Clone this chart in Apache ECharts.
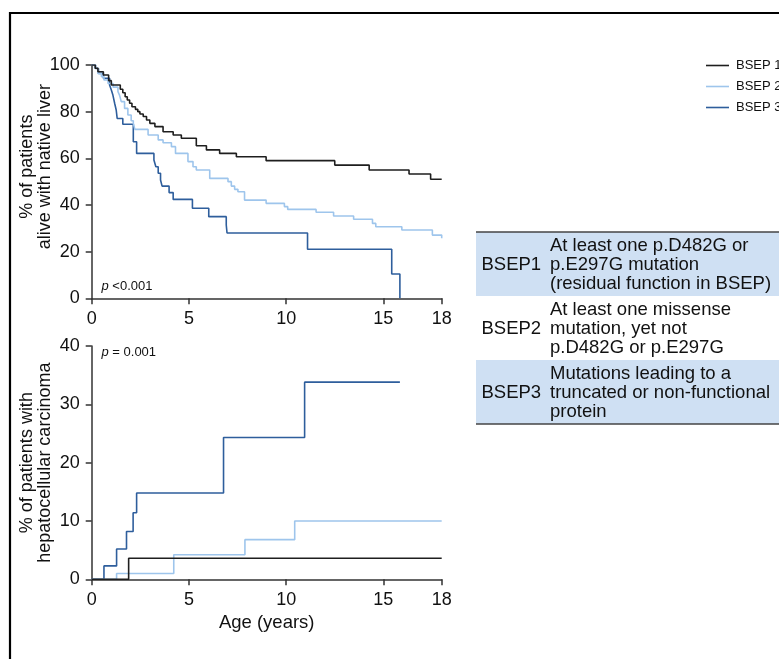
<!DOCTYPE html>
<html>
<head>
<meta charset="utf-8">
<script src="https://cdn.jsdelivr.net/npm/echarts@6/dist/echarts.min.js"></script>
<style>
html,body{margin:0;padding:0;background:#fff;}
#c{width:779px;height:659px;}
</style>
</head>
<body>
<div id="c"></div>
<script>
// ---- data ----
var seriesNames = ['BSEP 1', 'BSEP 2', 'BSEP 3'];
var seriesColors = ['#1e1e1e', '#9ec5ec', '#2e5e9c'];

// Survival with native liver (%), [age, value] step points
var survBSEP1 = [[0,100],[0.18,98.6],[0.32,97.1],[0.6,95.7],[0.87,93.3],[1.01,91.4],[1.47,89.6],[1.6,88.1],[1.72,86.4],[1.83,85],[1.95,83.6],[2.07,82.1],[2.25,81],[2.37,80],[2.48,79],[2.65,77.9],[2.82,76.4],[2.99,75],[3.25,73.6],[3.67,71.4],[4.19,70],[4.61,68.6],[5.38,65.4],[5.9,63.6],[6.58,62.1],[7.44,60.7],[8.97,59],[12.5,57.1],[14.27,55],[16.32,53.3],[17.43,51],[18,51]];
var survBSEP2 = [[0,100],[0.15,98.6],[0.32,96.4],[0.5,95],[0.63,93.6],[0.84,92.1],[1.1,90.5],[1.35,88.6],[1.43,87.1],[1.52,84.3],[1.69,81.4],[1.86,78.6],[2.03,76.1],[2.14,75],[2.22,72.4],[2.9,70],[3.42,67.9],[3.67,66.7],[4.1,65],[4.31,62.1],[4.95,58.6],[5.21,56.4],[5.38,55],[6.07,51.4],[7.01,50],[7.18,48.1],[7.35,46.7],[7.52,45.7],[7.86,42.1],[8.97,40.7],[9.91,39.3],[10.08,38.1],[11.54,36.9],[12.44,35.3],[13.47,33.9],[14.44,32.1],[14.61,30.7],[15.95,29.3],[17.52,27.1],[18,25.7]];
var survBSEP3 = [[0,100],[0.2,98.5],[0.35,96.4],[0.6,94.3],[0.92,91.4],[1.01,89.3],[1.09,87.1],[1.18,83.6],[1.26,80.7],[1.31,77.1],[1.6,74.6],[2.14,67.1],[2.31,62.1],[3.2,59.3],[3.3,56.4],[3.42,53.6],[3.54,50.7],[3.62,48.1],[3.98,45.3],[4.19,42.4],[5.18,38.6],[6.02,35],[6.92,31.4],[6.96,28],[11.1,21],[15.43,10.4],[15.85,0]];

// Cumulative HCC (%)
var hccBSEP1 = [[0,0],[1.9,3.6],[18,3.6]];
var hccBSEP2 = [[0,0],[1.28,1],[4.22,4.2],[7.88,6.8],[10.44,10],[18,10]];
var hccBSEP3 = [[0,0],[0.63,2.3],[1.28,5.2],[1.79,8.2],[2.13,11.4],[2.31,14.8],[6.78,24.3],[10.95,33.8],[15.85,33.8]];

var xTicks = [0, 5, 10, 15, 18];

var pTop = '<0.001';
var pBottom = '= 0.001';

var tableLabels = ['BSEP1', 'BSEP2', 'BSEP3'];
var tableDescriptions = [
  ['At least one p.D482G or', 'p.E297G mutation', '(residual function in BSEP)'],
  ['At least one missense', 'mutation, yet not', 'p.D482G or p.E297G'],
  ['Mutations leading to a', 'truncated or non-functional', 'protein']
];
var tableShaded = [true, false, true];

// ---- chart ----
var FONT = 'Liberation Sans, Arial, sans-serif';
var chart = echarts.init(document.getElementById('c'), null, {renderer: 'canvas'});

function xAxisCfg(gi) {
  return {
    type: 'value', gridIndex: gi, min: 0, max: 18,
    axisLine: {show: true, onZero: false, lineStyle: {color: '#333', width: 1.5}},
    axisTick: {show: true, length: 6, customValues: xTicks, lineStyle: {color: '#333', width: 1.5}},
    axisLabel: {customValues: xTicks, color: '#111', fontSize: 18, fontFamily: FONT, margin: 12},
    splitLine: {show: false},
    name: gi === 1 ? 'Age (years)' : '',
    nameLocation: 'middle', nameGap: 34, nameMoveOverlap: false,
    nameTextStyle: {color: '#111', fontSize: 18.5, fontFamily: FONT}
  };
}
function yAxisCfg(gi, max, interval, name, gap, pad) {
  return {
    type: 'value', gridIndex: gi, min: 0, max: max, interval: interval,
    axisLine: {show: true, onZero: false, lineStyle: {color: '#333', width: 1.5}},
    axisTick: {show: true, length: 6, lineStyle: {color: '#333', width: 1.5}},
    axisLabel: {color: '#111', fontSize: 18, fontFamily: FONT, margin: 12},
    splitLine: {show: false},
    name: name, nameLocation: 'middle', nameRotate: 90, nameGap: gap, nameMoveOverlap: false,
    nameTextStyle: {color: '#111', fontSize: 18, fontFamily: FONT, lineHeight: 18, padding: pad}
  };
}

var survData = [survBSEP1, survBSEP2, survBSEP3];
var hccData = [hccBSEP1, hccBSEP2, hccBSEP3];
var series = [];
for (var i = 0; i < 3; i++) {
  series.push({
    name: seriesNames[i], type: 'line', step: 'end', xAxisIndex: 0, yAxisIndex: 0,
    data: survData[i], symbol: 'none', silent: true, animation: false,
    lineStyle: {color: seriesColors[i], width: 1.6}, itemStyle: {color: seriesColors[i]}, z: 3 - i + 2
  });
}
for (var j = 0; j < 3; j++) {
  series.push({
    name: seriesNames[j], type: 'line', step: 'end', xAxisIndex: 1, yAxisIndex: 1,
    data: hccData[j], symbol: 'none', silent: true, animation: false,
    lineStyle: {color: seriesColors[j], width: 1.6}, itemStyle: {color: seriesColors[j]}, z: 3 - j + 2
  });
}

// frame, table and p-value graphics
var graphics = [];
graphics.push({type: 'rect', shape: {x: 10, y: 13, width: 800, height: 700},
  style: {fill: 'none', stroke: '#000', lineWidth: 2.2}, silent: true, z: 0});
var tableX = 476, tableTop = 232, rowH = 64, lineH = 19;
for (var r = 0; r < 3; r++) {
  var ry = tableTop + r * rowH;
  if (tableShaded[r]) {
    graphics.push({type: 'rect', shape: {x: tableX, y: ry, width: 320, height: rowH},
      style: {fill: '#cfe0f3'}, silent: true, z: 1});
  }
  graphics.push({type: 'text', x: 481.5, y: ry + rowH / 2 + 1,
    style: {text: tableLabels[r], fill: '#111', font: '18.5px ' + FONT, textVerticalAlign: 'middle', textAlign: 'left'}, z: 2});
  for (var k = 0; k < tableDescriptions[r].length; k++) {
    graphics.push({type: 'text', x: 550, y: ry + 14 + k * lineH,
      style: {text: tableDescriptions[r][k], fill: '#111', font: '18.5px ' + FONT, textVerticalAlign: 'middle', textAlign: 'left'}, z: 2});
  }
}
graphics.push({type: 'line', shape: {x1: tableX, y1: tableTop, x2: 800, y2: tableTop},
  style: {stroke: '#444', lineWidth: 1.5}, z: 3});
graphics.push({type: 'line', shape: {x1: tableX, y1: tableTop + 3 * rowH, x2: 800, y2: tableTop + 3 * rowH},
  style: {stroke: '#444', lineWidth: 1.5}, z: 3});

graphics.push({type: 'text', x: 101.5, y: 286, style: {
  text: '{i|p} ' + pTop, textVerticalAlign: 'middle', fill: '#111',
  rich: {i: {fontStyle: 'italic', fontSize: 13, fontFamily: FONT, fill: '#111'}},
  font: '13px ' + FONT}, z: 5});
graphics.push({type: 'text', x: 101.5, y: 352, style: {
  text: '{i|p} ' + pBottom, textVerticalAlign: 'middle', fill: '#111',
  rich: {i: {fontStyle: 'italic', fontSize: 13, fontFamily: FONT, fill: '#111'}},
  font: '13px ' + FONT}, z: 5});

chart.setOption({
  animation: false,
  backgroundColor: '#fff',
  legend: {
    data: seriesNames, orient: 'vertical', left: 706, top: 59, padding: 0,
    itemWidth: 23, itemHeight: 10, itemGap: 8, icon: 'path://M0,4.2 L23,4.2 L23,5.8 L0,5.8 Z',
    textStyle: {color: '#111', fontSize: 13, fontFamily: FONT, padding: [0, 0, 0, 2]},
    selectedMode: false
  },
  grid: [
    {left: 91.7, top: 65, width: 350, height: 233.3, containLabel: false},
    {left: 91.7, top: 346, width: 350, height: 233.3, containLabel: false}
  ],
  xAxis: [xAxisCfg(0), xAxisCfg(1)],
  yAxis: [
    yAxisCfg(0, 100, 20, '% of patients\nalive with native liver', 38, [0, 0, 0, 30]),
    yAxisCfg(1, 40, 10, '% of patients with\nhepatocellular carcinoma', 38, [0, 0, 0, 0])
  ],
  series: series,
  graphic: graphics
});
</script>
</body>
</html>
